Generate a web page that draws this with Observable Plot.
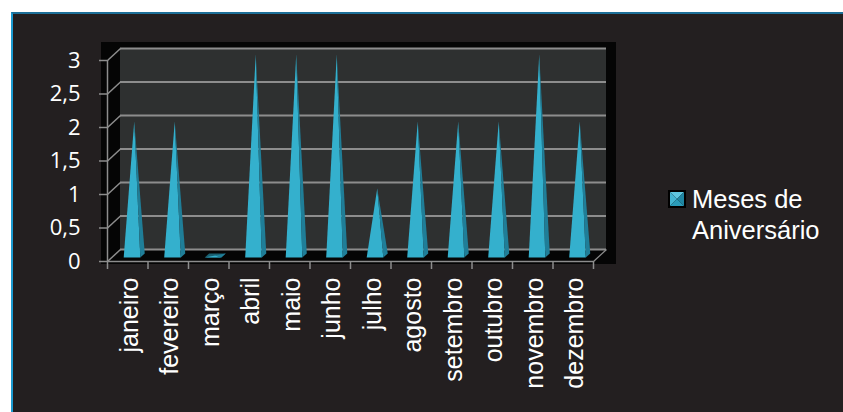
<!DOCTYPE html>
<html>
<head>
<meta charset="utf-8">
<script src="https://cdn.jsdelivr.net/npm/d3@7"></script>
<script src="https://cdn.jsdelivr.net/npm/@observablehq/plot@0.6"></script>
<style>
  body { margin: 0; background: #ffffff; }
  #wrap { position: relative; width: 843px; height: 412px; overflow: hidden; }
  #panel { position: absolute; left: 11px; top: 12px; width: 840px; height: 410px; background: #231f20;
           border-top: 2px solid #1c6f98; border-left: 2px solid #1b9ad0; box-sizing: border-box; }
  #chart { position: absolute; left: 0; top: 0; }
  #legend { position: absolute; left: 668px; top: 184px; font-family: "Liberation Sans", Arial, sans-serif;
            font-size: 25.5px; line-height: 31px; color: #ffffff; }
  #legend .icon { position: absolute; left: 0; top: 6px; width: 18px; height: 18px; }
  #legend .txt { margin-left: 24px; white-space: nowrap; }
</style>
</head>
<body>
<div id="wrap">
  <div id="panel"></div>
  <div id="chart"></div>
  <div id="legend">
    <svg class="icon" viewBox="0 0 18 18">
      <rect x="0" y="0" width="18" height="18" fill="#000"/>
      <polygon points="2,2 16,2 9,9" fill="#5fc6df"/>
      <polygon points="2,2 2,16 9,9" fill="#43b5d2"/>
      <polygon points="16,2 16,16 9,9" fill="#1f86a2"/>
      <polygon points="2,16 16,16 9,9" fill="#2a9bb9"/>
    </svg>
    <div class="txt" id="legendText"></div>
  </div>
</div>
<script>
// ---- data ----
const months = ["janeiro", "fevereiro", "março", "abril", "maio", "junho",
                "julho", "agosto", "setembro", "outubro", "novembro", "dezembro"];
const values = [2, 2, 0, 3, 3, 3, 1, 2, 2, 2, 3, 2];
const yTicks = [0, 0.5, 1, 1.5, 2, 2.5, 3];
const yTickLabels = ["0", "0,5", "1", "1,5", "2", "2,5", "3"];
const seriesName = ["Meses de", "Aniversário"];

document.getElementById("legendText").innerHTML = seriesName.join("<br>");

// ---- 3D depth styling (in scale units) ----
const DX = 13 / 40.5, DY = 12 / 67;
const P = {left: -0.1, apex: 0.16, right: 0.31, back: 0.42, backLeft: 0.01,
           baseFront: 0.06, apexDepth: 0.09, baseBack: 0.12};

const rows = months.map((m, i) => ({m, i, v: values[i]}));
const xMin = -0.5, xMax = months.length - 0.5;
const yMax = yTicks[yTicks.length - 1];
const boundaries = d3.range(months.length + 1).map(k => k - 0.5);

const front = rows.flatMap(r => [
  {id: r.m, x: r.i + P.left, y: P.baseFront},
  {id: r.m, x: r.i + P.apex, y: r.v + P.apexDepth},
  {id: r.m, x: r.i + P.right, y: P.baseFront}
]);
const side = rows.flatMap(r => [
  {id: r.m, x: r.i + P.apex, y: r.v + P.apexDepth},
  {id: r.m, x: r.i + P.right, y: P.baseFront},
  {id: r.m, x: r.i + P.back, y: P.baseBack}
]);
const base = rows.filter(r => r.v === 0).flatMap(r => [
  {id: r.m, x: r.i + P.left, y: P.baseFront},
  {id: r.m, x: r.i + P.right, y: P.baseFront},
  {id: r.m, x: r.i + P.back, y: P.baseBack},
  {id: r.m, x: r.i + P.backLeft, y: P.baseBack}
]);

const grid = "#8d8d8d";
const chart = Plot.plot({
  width: 843,
  height: 412,
  marginLeft: 107,
  marginRight: 250,
  marginTop: 60,
  marginBottom: 151,
  x: {type: "linear", domain: [xMin, xMax], axis: null},
  y: {type: "linear", domain: [0, yMax], axis: null},
  style: {background: "transparent", overflow: "visible"},
  marks: [
    // black plot box
    Plot.rect([0], {x1: () => xMin - 6 / 40.5, x2: () => xMax + 23 / 40.5,
                    y1: () => -3 / 67, y2: () => yMax + 18 / 67, fill: "#050505"}),
    // back wall
    Plot.rect([0], {x1: () => xMin + DX, x2: () => xMax + DX, y1: () => DY, y2: () => yMax + DY, fill: "#2e3030"}),
    // back gridlines
    Plot.ruleY(yTicks, {y: d => d + DY, x1: () => xMin + DX, x2: () => xMax + DX, stroke: grid, strokeWidth: 2}),
    // side wall diagonals
    Plot.link(yTicks, {x1: () => xMin, y1: d => d, x2: () => xMin + DX, y2: d => d + DY, stroke: grid, strokeWidth: 1.5}),
    // floor right edge
    Plot.link([0], {x1: () => xMax, y1: () => 0, x2: () => xMax + DX, y2: () => DY, stroke: grid, strokeWidth: 1.2}),
    // y axis
    Plot.ruleX([xMin], {y1: () => 0, y2: () => yMax, stroke: grid, strokeWidth: 1.5}),
    Plot.ruleY(yTicks, {y: d => d, x1: () => xMin - 8 / 40.5, x2: () => xMin, stroke: grid, strokeWidth: 1.5}),
    // x axis
    Plot.ruleY([0], {x1: () => xMin, x2: () => xMax, stroke: grid, strokeWidth: 1.5}),
    Plot.ruleX(boundaries, {y1: () => 0, y2: () => -8 / 67, stroke: grid, strokeWidth: 1.5}),
    // pyramids
    Plot.line(base, {x: "x", y: "y", z: "id", fill: "#1a5f70", stroke: "none"}),
    Plot.line(front, {x: "x", y: "y", z: "id", fill: "#34b0cd", stroke: "none"}),
    Plot.line(side, {x: "x", y: "y", z: "id", fill: "#1f7e98", stroke: "none"}),
    // y labels
    Plot.text(yTicks, {x: () => xMin, y: d => d, text: (d, i) => yTickLabels[i], textAnchor: "end",
                       dx: -27, fill: "#ffffff", fontSize: 22, fontFamily: "'Open Sans', sans-serif"}),
    // x labels
    Plot.text(rows, {x: "i", y: () => 0, text: "m", rotate: -90, textAnchor: "end", dy: 16, dx: 2,
                     fill: "#ffffff", fontSize: 25, fontFamily: "'Liberation Sans', Arial, sans-serif"})
  ]
});
document.getElementById("chart").appendChild(chart);
</script>
</body>
</html>
